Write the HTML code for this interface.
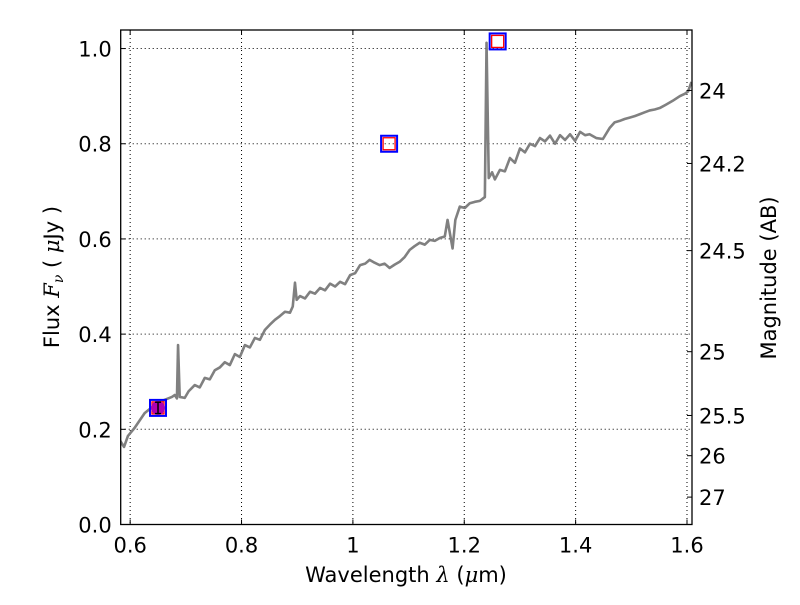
<!DOCTYPE html>
<html><head><meta charset="utf-8"><style>
body{margin:0;background:#fff;}
svg text{font-family:"DejaVu Sans","Liberation Sans",sans-serif;fill:#000;}
</style></head><body>
<svg id="chart" width="800" height="600" xmlns="http://www.w3.org/2000/svg">
<rect width="800" height="600" fill="#fff"/>
<g id="grid"></g>
<g id="series"></g>
<g id="axes"></g>
<text x="406" y="582" font-size="21" text-anchor="middle">Wavelength  <tspan font-style="italic" font-family="DejaVu Serif,serif">λ</tspan> (<tspan font-style="italic" font-family="DejaVu Serif,serif">μ</tspan>m)</text>
<text transform="translate(59,277) rotate(-90)" font-size="21" text-anchor="middle">Flux  <tspan font-style="italic" font-family="DejaVu Serif,serif">F<tspan font-size="14" dy="4">ν</tspan></tspan><tspan dy="-4">  ( </tspan><tspan font-style="italic" font-family="DejaVu Serif,serif">μ</tspan>Jy )</text>
<text transform="translate(776,278) rotate(-90)" font-size="21" text-anchor="middle">Magnitude (AB)</text>
</svg>
<script>
const wave=[0.581,0.589,0.596,0.608,0.626,0.644,0.662,0.675,0.680,0.684,0.686,0.689,0.698,0.705,0.716,0.725,0.734,0.743,0.752,0.761,0.770,0.779,0.788,0.797,0.806,0.815,0.824,0.833,0.842,0.851,0.860,0.869,0.878,0.887,0.892,0.896,0.899,0.905,0.914,0.923,0.932,0.941,0.950,0.959,0.968,0.977,0.986,0.995,1.004,1.013,1.022,1.030,1.039,1.048,1.057,1.066,1.075,1.084,1.093,1.102,1.111,1.120,1.129,1.138,1.147,1.156,1.165,1.170,1.179,1.184,1.192,1.201,1.210,1.219,1.228,1.237,1.240,1.244,1.250,1.255,1.264,1.273,1.282,1.291,1.300,1.309,1.318,1.327,1.336,1.345,1.354,1.363,1.372,1.381,1.390,1.399,1.408,1.417,1.425,1.437,1.449,1.461,1.470,1.479,1.488,1.497,1.506,1.515,1.524,1.533,1.542,1.551,1.562,1.574,1.587,1.596,1.602,1.608];
const flux=[0.178,0.163,0.186,0.203,0.234,0.251,0.262,0.268,0.272,0.265,0.377,0.268,0.266,0.280,0.293,0.288,0.308,0.305,0.324,0.330,0.341,0.335,0.358,0.352,0.377,0.372,0.392,0.388,0.409,0.420,0.430,0.438,0.447,0.445,0.458,0.508,0.472,0.480,0.475,0.489,0.485,0.497,0.492,0.506,0.500,0.510,0.505,0.524,0.528,0.545,0.548,0.556,0.550,0.545,0.548,0.539,0.546,0.552,0.562,0.577,0.585,0.592,0.588,0.598,0.596,0.602,0.605,0.640,0.580,0.640,0.668,0.665,0.675,0.678,0.680,0.688,1.012,0.728,0.740,0.725,0.745,0.742,0.770,0.760,0.790,0.782,0.800,0.795,0.812,0.805,0.817,0.800,0.818,0.808,0.820,0.806,0.825,0.818,0.820,0.812,0.810,0.833,0.845,0.848,0.852,0.855,0.858,0.862,0.866,0.870,0.872,0.875,0.882,0.890,0.900,0.905,0.910,0.930];
const xTicks=[0.6,0.8,1.0,1.2,1.4,1.6];
const xTickLabels=["0.6","0.8","1","1.2","1.4","1.6"];
const yTicks=[0,0.2,0.4,0.6,0.8,1.0];
const yTickLabels=["0.0","0.2","0.4","0.6","0.8","1.0"];
const magTicks=[24,24.2,24.5,25,25.5,26,27];
const magLabels=["24","24.2","24.5","25","25.5","26","27"];
const photWave=[0.65,1.065,1.26];
const photFlux=[0.245,0.80,1.015];
const detWave=[0.65];
const detFlux=[0.245];
const detErr=[0.012];

const NS="http://www.w3.org/2000/svg";
const L=120.7,R=692,T=30,B=524.5;
const xmin=0.583,xmax=1.609,ymin=0,ymax=1.039;
const sx=v=>L+(v-xmin)/(xmax-xmin)*(R-L);
const sy=v=>B-(v-ymin)/(ymax-ymin)*(B-T);
function mk(tag,attrs,parent){const e=document.createElementNS(NS,tag);for(const k in attrs)e.setAttribute(k,attrs[k]);parent.appendChild(e);return e;}
const grid=document.getElementById('grid'),series=document.getElementById('series'),axes=document.getElementById('axes');
xTicks.forEach((t,i)=>{
 const x=sx(t);
 const g=mk('line',{x1:x,x2:x,y1:T,y2:B,stroke:'#000','stroke-width':1,'stroke-dasharray':'1,3'},grid);
 
 
 mk('line',{x1:x,x2:x,y1:B,y2:B-5,stroke:'#000'},axes);
 mk('line',{x1:x,x2:x,y1:T,y2:T+5,stroke:'#000'},axes);
 const tx=mk('text',{x:x,y:B+28,'font-size':21,'text-anchor':'middle'},axes);
 tx.textContent=xTickLabels[i];
 
 
});
yTicks.forEach((t,i)=>{
 const y=sy(t);
 const g=mk('line',{x1:L,x2:R,y1:y,y2:y,stroke:'#000','stroke-width':1,'stroke-dasharray':'1,3'},grid);
 
 
 mk('line',{x1:L,x2:L+5,y1:y,y2:y,stroke:'#000'},axes);
 const tx=mk('text',{x:L-9,y:y+8,'font-size':21,'text-anchor':'end'},axes);
 tx.textContent=yTickLabels[i];
 
 
});
magTicks.forEach((m,i)=>{
 const f=Math.pow(10,(23.9-m)/2.5);
 const y=sy(f);
 mk('line',{x1:R,x2:R-5,y1:y,y2:y,stroke:'#000'},axes);
 const tx=mk('text',{x:R+7,y:y+8,'font-size':21},axes);
 tx.textContent=magLabels[i];
 
 
});
const frame=mk('rect',{x:L,y:T,width:R-L,height:B-T,fill:'none',stroke:'#000','stroke-width':1.3},axes);


const cp=mk('clipPath',{id:'cp'},series);mk('rect',{x:L,y:T-12,width:R-L,height:B-T+12},cp);
const pl=mk('polyline',{points:wave.map((w,i)=>sx(w)+','+sy(flux[i])).join(' '),fill:'none',stroke:'#808080','stroke-width':2.6,'stroke-linejoin':'round','clip-path':'url(#cp)'},series);


photWave.forEach((w,i)=>{
 const x=sx(w),y=sy(photFlux[i]);
 const r=mk('rect',{x:x-6,y:y-6,width:12,height:12,fill:'none',stroke:'red','stroke-width':1.3},series);
 
 
 const b=mk('rect',{x:x-8,y:y-8,width:16,height:16,fill:'none',stroke:'blue','stroke-width':2},series);
 
 
});
detWave.forEach((w,i)=>{
 const x=sx(w),y=sy(detFlux[i]);
 const c=mk('circle',{cx:x,cy:y,r:7,fill:'#b000b0'},series);
 
 
 const y1=sy(detFlux[i]+detErr[i]),y2=sy(detFlux[i]-detErr[i]);
 mk('line',{x1:x,x2:x,y1:y1,y2:y2,stroke:'#000','stroke-width':1.5},series);
 mk('line',{x1:x-3,x2:x+3,y1:y1,y2:y1,stroke:'#000','stroke-width':1.5},series);
 mk('line',{x1:x-3,x2:x+3,y1:y2,y2:y2,stroke:'#000','stroke-width':1.5},series);
});
</script>
</body></html>
